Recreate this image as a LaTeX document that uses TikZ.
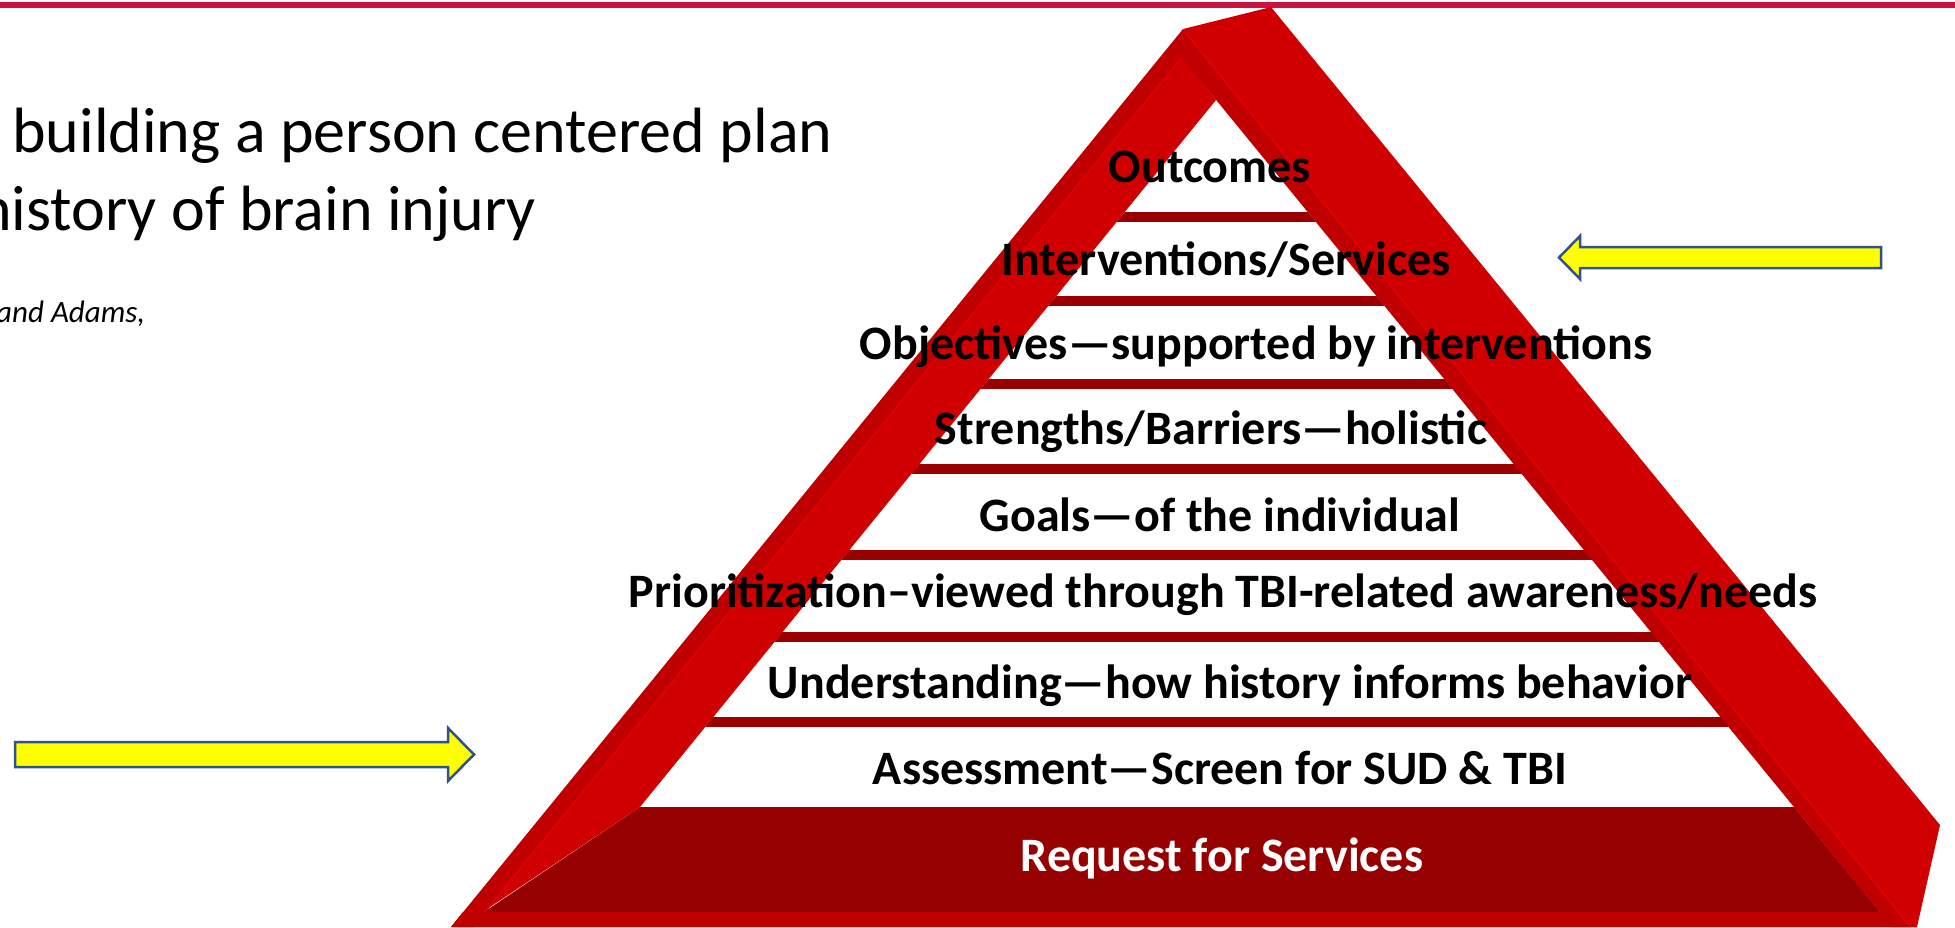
\documentclass[tikz,border=0pt]{standalone}
\usepackage{fontspec}
\setmainfont{Carlito}
\definecolor{rule}{RGB}{204,18,62}
\definecolor{face}{RGB}{208,0,0}
\definecolor{side}{RGB}{192,0,0}
\definecolor{glint}{RGB}{226,0,0}
\definecolor{basefill}{RGB}{150,0,0}
\definecolor{barfill}{RGB}{155,0,0}
\definecolor{foot}{RGB}{190,0,0}
\definecolor{arrowfill}{RGB}{255,255,0}
\definecolor{arrowline}{RGB}{47,82,143}
\tikzset{
  lbl/.style={font=\bfseries\fontsize{48}{52}\selectfont, text=black, inner sep=0pt, anchor=base},
  lblwhite/.style={lbl, text=white},
  bar/.style={fill=barfill, draw=none},
  blockarrow/.style={fill=arrowfill, draw=arrowline, line width=2.5pt, line join=miter},
}
\begin{document}
\begin{tikzpicture}[x=1pt, y=-1pt]
\useasboundingbox (0,0) rectangle (1955,927);
\clip (0,0) rectangle (1955,927);
\fill[white] (0,0) rectangle (1955,927);

% header rule
\fill[rule] (0,2) rectangle (1955,7.5);

% title and citation
\node[inner sep=0pt, anchor=base west, font=\fontsize{64}{70}\selectfont] (title1) at (12,152) {building a person centered plan};
\node[inner sep=0pt, anchor=base west, font=\fontsize{64}{70}\selectfont] (title2) at (-22,230) {history of brain injury};
\node[inner sep=0pt, anchor=base west, font=\itshape\fontsize{31}{35}\selectfont] (cite) at (-4,322) {and Adams,};

% base of the pyramid
\fill[basefill] (640,807) -- (1794,807) -- (1880,912) -- (484,912) -- cycle;

% separator bars between levels, kept inside the frame opening
\begin{scope}
  \clip (1216,100) -- (542,927) -- (1893,927) -- cycle;
  \foreach \yc in {217,301,384,469,555,637,722}
    \fill[bar] (500,\yc-5) rectangle (1900,\yc+5);
\end{scope}

% left leg: outer band and front face
\fill[side] (1183,29) -- (451,927) -- (473,927) -- (1182,57) -- cycle;
\fill[face] (1182,57) -- (1216,100) -- (640,807) -- (484,911) -- (473,927) -- (1182,57) -- cycle;
\draw[glint, line width=1.5pt] (1182,57) -- (475,924);

% foot of the frame
\fill[foot] (463,912) -- (1888,912) -- (1910,927) -- (451,927) -- cycle;

% right leg: inner side strip and front face
\fill[side] (1183,29) -- (1910,927) -- (1892,927) -- (1181,57) -- cycle;
\fill[face] (1183,29) -- (1271,7) -- (1940,825) -- (1917,927) -- (1910,927) -- cycle;
\draw[glint, line width=1.5pt] (1184,31) -- (1909,925);

% level labels
\node[lbl] (outcomes) at (1210,182) {Outcomes};
\node[lbl] (interv) at (1226,275) {Interventions/Services};
\node[lbl] (objectives) at (1256,359) {Objectives—supported by interventions};
\node[lbl] (strengths) at (1211,444.5) {Strengths/Barriers—holistic};
\node[lbl] (goals) at (1220,531) {Goals—of the individual};
\node[lbl] (prior) at (1223,607) {Prioritization–viewed through TBI-related awareness/needs};
\node[lbl] (underst) at (1230,698.5) {Understanding—how history informs behavior};
\node[lbl] (assess) at (1220,784.5) {Assessment—Screen for SUD \& TBI};
\node[lblwhite] (request) at (1222,871) {Request for Services};

% yellow block arrows
\filldraw[blockarrow] (15,742) -- (448,742) -- (448,728) -- (474,754.5) -- (448,781) -- (448,767) -- (15,767) -- cycle;
\filldraw[blockarrow] (1881,247) -- (1580,247) -- (1580,236) -- (1559,257.5) -- (1580,279) -- (1580,268) -- (1881,268) -- cycle;
\end{tikzpicture}
\end{document}
